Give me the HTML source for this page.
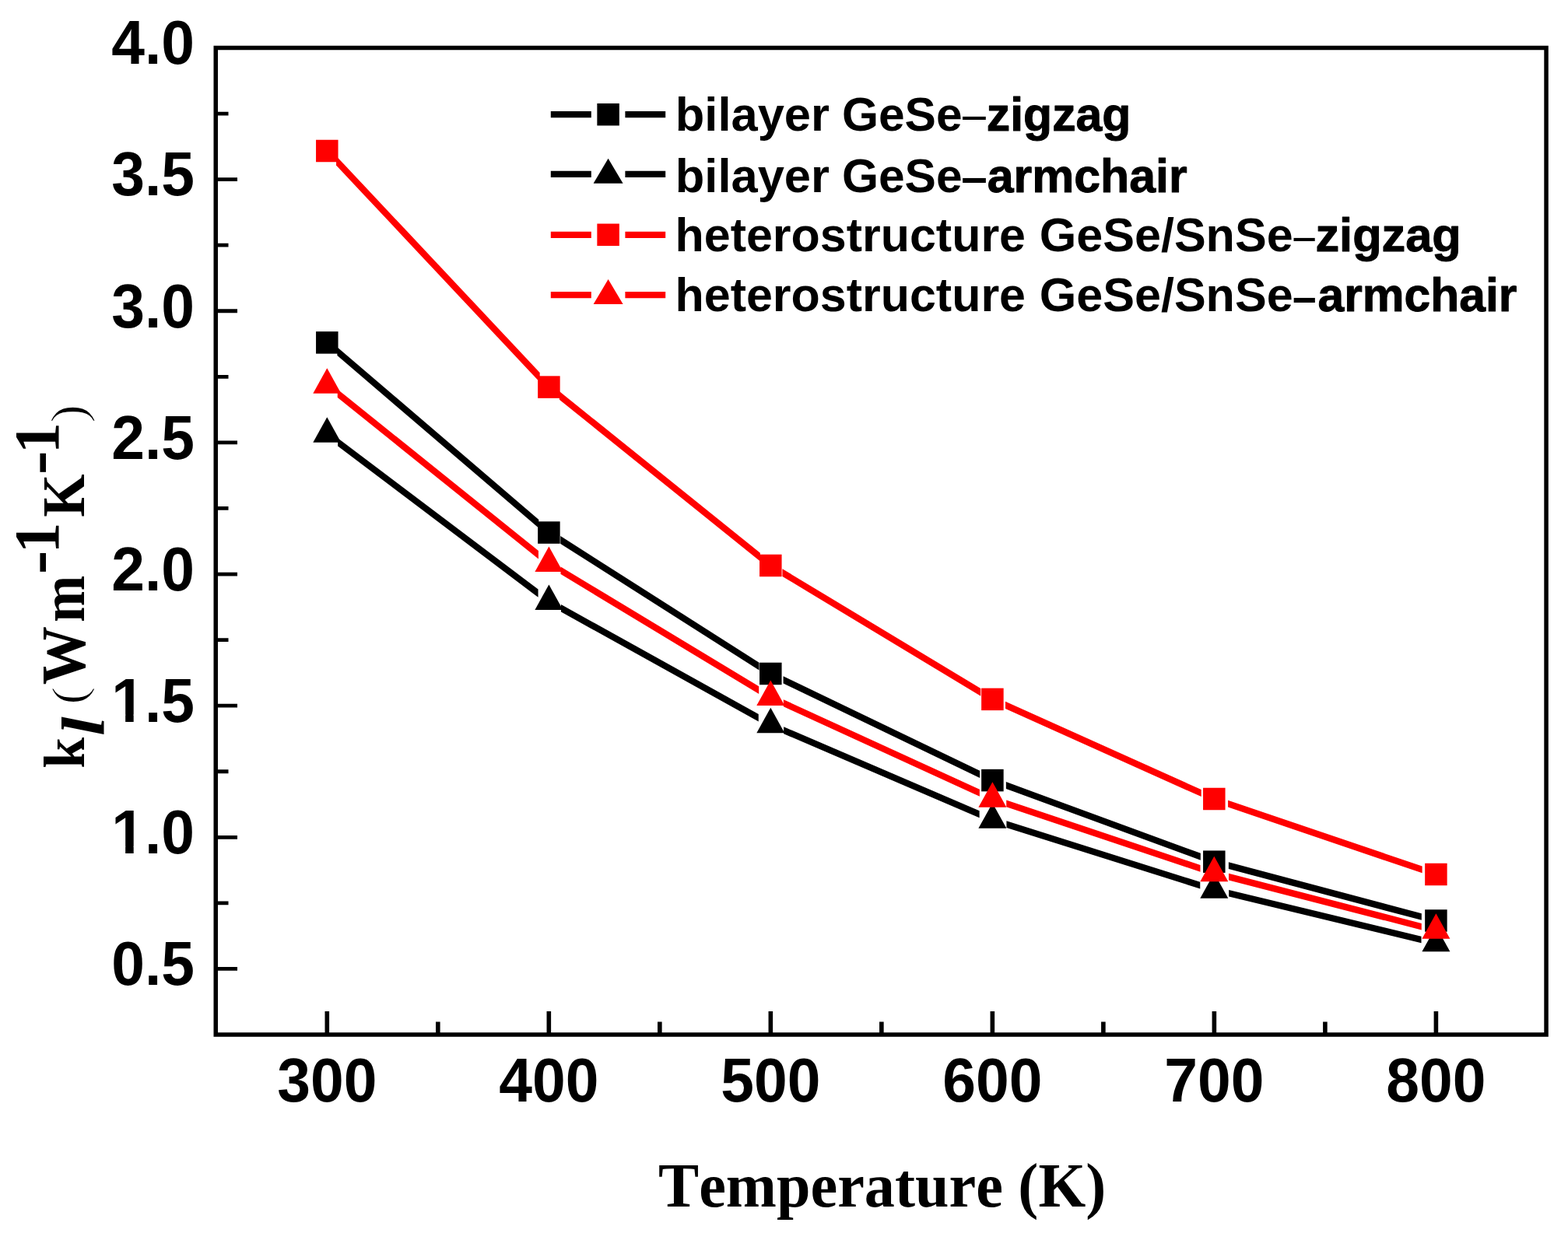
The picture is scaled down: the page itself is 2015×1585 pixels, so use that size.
<!DOCTYPE html>
<html lang="en"><head><meta charset="utf-8"><title>Lattice thermal conductivity vs temperature</title>
<style>html,body{margin:0;padding:0;background:#fff;}body{width:2015px;height:1585px;overflow:hidden;}svg{display:block;}.a{font-family:"Liberation Sans",sans-serif;font-weight:bold;}.t{font-family:"Liberation Serif",serif;font-weight:bold;}.r{font-family:"Liberation Serif",serif;font-weight:normal;}.s{font-family:"Liberation Sans",sans-serif;font-weight:normal;}</style></head><body>
<svg width="2015" height="1585" viewBox="0 0 2015 1585">
<rect width="2015" height="1585" fill="#fff"/>
<g><polygon points="433.37,446.14 692.33,667.94 692.33,678.86 433.37,457.06" fill="#000000"/><polygon points="720.22,689.11 975.48,851.65 975.48,861.49 720.22,698.95" fill="#000000"/><polygon points="1006.58,869.22 1259.12,990.67 1259.12,999.88 1006.58,878.43" fill="#000000"/><polygon points="1292.87,1005.09 1542.83,1096.87 1542.83,1105.71 1292.87,1013.93" fill="#000000"/><polygon points="1578.9,1108.35 1826.8,1174.26 1826.8,1182.85 1578.9,1116.94" fill="#000000"/><rect x="406.05" y="426.15" width="28.5" height="28.5" fill="#000000"/><rect x="691.15" y="670.35" width="28.5" height="28.5" fill="#000000"/><rect x="976.05" y="851.75" width="28.5" height="28.5" fill="#000000"/><rect x="1261.15" y="988.85" width="28.5" height="28.5" fill="#000000"/><rect x="1546.05" y="1093.45" width="28.5" height="28.5" fill="#000000"/><rect x="1831.15" y="1169.25" width="28.5" height="28.5" fill="#000000"/></g>
<g><polygon points="434.14,563.14 691.56,757.46 691.56,767.86 434.14,573.54" fill="#000000"/><polygon points="720.95,777 974.75,918.11 974.75,927.6 720.95,786.49" fill="#000000"/><polygon points="1007.1,934.2 1258.6,1042.26 1258.6,1051.3 1007.1,943.24" fill="#000000"/><polygon points="1293.44,1055.33 1542.26,1133.76 1542.26,1142.47 1293.44,1064.04" fill="#000000"/><polygon points="1579.19,1144.08 1826.51,1203.68 1826.51,1212.22 1579.19,1152.62" fill="#000000"/><polygon points="420.3,536.23 438.3,568.73 402.3,568.73" fill="#000000"/><polygon points="705.4,751.43 723.4,783.93 687.4,783.93" fill="#000000"/><polygon points="990.3,909.83 1008.3,942.33 972.3,942.33" fill="#000000"/><polygon points="1275.4,1032.33 1293.4,1064.83 1257.4,1064.83" fill="#000000"/><polygon points="1560.3,1122.13 1578.3,1154.63 1542.3,1154.63" fill="#000000"/><polygon points="1845.4,1190.83 1863.4,1223.33 1827.4,1223.33" fill="#000000"/></g>
<g><polygon points="432.04,200.44 693.66,479.04 693.66,491.16 432.04,212.56" fill="#ff0000"/><polygon points="718.85,503.1 976.85,710.84 976.85,721.5 718.85,513.76" fill="#ff0000"/><polygon points="1005.42,731.27 1260.28,884.94 1260.28,894.63 1005.42,740.96" fill="#ff0000"/><polygon points="1291.99,901.81 1543.71,1014.99 1543.71,1024.09 1291.99,910.91" fill="#ff0000"/><polygon points="1578.06,1028.66 1827.64,1113.57 1827.64,1122.34 1578.06,1037.43" fill="#ff0000"/><rect x="406.05" y="179.75" width="28.5" height="28.5" fill="#ff0000"/><rect x="691.15" y="483.35" width="28.5" height="28.5" fill="#ff0000"/><rect x="976.05" y="712.75" width="28.5" height="28.5" fill="#ff0000"/><rect x="1261.15" y="884.65" width="28.5" height="28.5" fill="#ff0000"/><rect x="1546.05" y="1012.75" width="28.5" height="28.5" fill="#ff0000"/><rect x="1831.15" y="1109.75" width="28.5" height="28.5" fill="#ff0000"/></g>
<g><polygon points="433.76,500.4 691.94,707.96 691.94,718.6 433.76,511.04" fill="#ff0000"/><polygon points="720.51,728.38 975.19,882.23 975.19,891.92 720.51,738.07" fill="#ff0000"/><polygon points="1006.81,899.2 1258.89,1014.67 1258.89,1023.8 1006.81,908.33" fill="#ff0000"/><polygon points="1293.22,1028.39 1542.48,1111.95 1542.48,1120.71 1293.22,1037.15" fill="#ff0000"/><polygon points="1578.98,1122.84 1826.72,1186.88 1826.72,1195.46 1578.98,1131.42" fill="#ff0000"/><polygon points="420.3,473.23 438.3,505.73 402.3,505.73" fill="#ff0000"/><polygon points="705.4,702.43 723.4,734.93 687.4,734.93" fill="#ff0000"/><polygon points="990.3,874.53 1008.3,907.03 972.3,907.03" fill="#ff0000"/><polygon points="1275.4,1005.13 1293.4,1037.63 1257.4,1037.63" fill="#ff0000"/><polygon points="1560.3,1100.63 1578.3,1133.13 1542.3,1133.13" fill="#ff0000"/><polygon points="1845.4,1174.33 1863.4,1206.83 1827.4,1206.83" fill="#ff0000"/></g>
<rect x="277.25" y="61.5" width="1709.8" height="1268.5" fill="none" stroke="#000" stroke-width="5.5"/>
<path d="M277.25 1245.43H305M277.25 1160.87H293.5M277.25 1076.3H305M277.25 991.73H293.5M277.25 907.16H305M277.25 822.6H293.5M277.25 738.03H305M277.25 653.46H293.5M277.25 568.89H305M277.25 484.33H293.5M277.25 399.76H305M277.25 315.19H293.5M277.25 230.62H305M277.25 146.06H293.5" stroke="#000" stroke-width="4.8" fill="none"/>
<path d="M420.3 1330V1300M562.81 1330V1313.4M705.32 1330V1300M847.83 1330V1313.4M990.34 1330V1300M1132.85 1330V1313.4M1275.36 1330V1300M1417.87 1330V1313.4M1560.38 1330V1300M1702.89 1330V1313.4M1845.4 1330V1300" stroke="#000" stroke-width="5.6" fill="none"/>
<text class="a" font-size="80" text-anchor="end" transform="translate(250 82.3) scale(0.96 1)">4.0</text>
<text class="a" font-size="80" text-anchor="end" transform="translate(250 251.43) scale(0.96 1)">3.5</text>
<text class="a" font-size="80" text-anchor="end" transform="translate(250 420.56) scale(0.96 1)">3.0</text>
<text class="a" font-size="80" text-anchor="end" transform="translate(250 589.69) scale(0.96 1)">2.5</text>
<text class="a" font-size="80" text-anchor="end" transform="translate(250 758.82) scale(0.96 1)">2.0</text>
<text class="a" font-size="80" text-anchor="end" transform="translate(250 927.95) scale(0.96 1)">1.5</text>
<path transform="translate(250 927.95) scale(0.96 1)" fill="#fff" d="M-108.02 -9.44H-92.54V1H-108.02ZM-81.58 -9.44H-67.22V1H-81.58Z"/>
<text class="a" font-size="80" text-anchor="end" transform="translate(250 1097.08) scale(0.96 1)">1.0</text>
<path transform="translate(250 1097.08) scale(0.96 1)" fill="#fff" d="M-108.02 -9.44H-92.54V1H-108.02ZM-81.58 -9.44H-67.22V1H-81.58Z"/>
<text class="a" font-size="80" text-anchor="end" transform="translate(250 1266.21) scale(0.96 1)">0.5</text>
<text class="a" font-size="80" text-anchor="middle" transform="translate(420.3 1416.3) scale(0.96 1)">300</text>
<text class="a" font-size="80" text-anchor="middle" transform="translate(705.4 1416.3) scale(0.96 1)">400</text>
<text class="a" font-size="80" text-anchor="middle" transform="translate(990.3 1416.3) scale(0.96 1)">500</text>
<text class="a" font-size="80" text-anchor="middle" transform="translate(1275.4 1416.3) scale(0.96 1)">600</text>
<text class="a" font-size="80" text-anchor="middle" transform="translate(1560.3 1416.3) scale(0.96 1)">700</text>
<text class="a" font-size="80" text-anchor="middle" transform="translate(1845.4 1416.3) scale(0.96 1)">800</text>
<text class="t" font-size="79.4" style="font-kerning:none" transform="translate(846 1550.7) scale(0.9848 1)">Temperature (K)</text>
<text class="t" transform="translate(107.7 986) rotate(-90)"><tspan x="-1.79" y="0" font-size="73.67" textLength="39.88" lengthAdjust="spacingAndGlyphs">k</tspan><tspan x="40.05" y="24.8" font-size="77.55" textLength="24.66" lengthAdjust="spacingAndGlyphs" font-style="italic">l</tspan><tspan x="80.63" y="1.63" font-size="61.49" textLength="22.72" lengthAdjust="spacingAndGlyphs" font-weight="normal" stroke="#fff" stroke-width="1.1">(</tspan><tspan x="105.67" y="1.49" font-size="80.45" textLength="75.15" lengthAdjust="spacingAndGlyphs">W</tspan><tspan x="186.01" y="0" font-size="80" textLength="60.29" lengthAdjust="spacingAndGlyphs">m</tspan><tspan x="247.65" y="-31.69" font-size="89.41" textLength="30.61" lengthAdjust="spacingAndGlyphs">-</tspan><tspan x="274.74" y="-32.7" font-size="81.52" textLength="39.73" lengthAdjust="spacingAndGlyphs">1</tspan><tspan x="321.36" y="0" font-size="78.17" textLength="55.3" lengthAdjust="spacingAndGlyphs">K</tspan><tspan x="375.72" y="-31.69" font-size="89.41" textLength="30.87" lengthAdjust="spacingAndGlyphs">-</tspan><tspan x="402.78" y="-32.7" font-size="81.52" textLength="40.14" lengthAdjust="spacingAndGlyphs">1</tspan><tspan x="442.17" y="1.26" font-size="63.25" textLength="23.92" lengthAdjust="spacingAndGlyphs" font-weight="normal" stroke="#fff" stroke-width="1.1">)</tspan></text>
<path d="M707.8 147.2H759.8M803.4 147.2H855.2" stroke="#000000" stroke-width="8.3" fill="none"/>
<rect x="767.35" y="132.95" width="28.5" height="28.5" fill="#000000"/>
<text class="a" font-size="60.4"><tspan x="867.8" y="168" textLength="198.17" lengthAdjust="spacingAndGlyphs">bilayer</tspan> <tspan x="1081.88" y="168" textLength="154.72" lengthAdjust="spacingAndGlyphs">GeSe</tspan><tspan x="1237" y="168.4" textLength="29.86" lengthAdjust="spacingAndGlyphs" font-weight="normal">–</tspan><tspan x="1267.87" y="168" textLength="185.62" lengthAdjust="spacingAndGlyphs" stroke="#000" stroke-width="1" stroke-linejoin="round">zigzag</tspan></text>
<path d="M707.8 223.9H759.8M803.4 223.9H855.2" stroke="#000000" stroke-width="8.3" fill="none"/>
<polygon points="781.6,203.77 800.6,235.77 762.6,235.77" fill="#000000"/>
<text class="a" font-size="60.4"><tspan x="867.8" y="246.7" textLength="198.17" lengthAdjust="spacingAndGlyphs">bilayer</tspan> <tspan x="1081.88" y="246.7" textLength="154.72" lengthAdjust="spacingAndGlyphs">GeSe</tspan><tspan x="1235.19" y="248.3" textLength="33.48" lengthAdjust="spacingAndGlyphs">–</tspan><tspan x="1268.78" y="246.7" textLength="256.82" lengthAdjust="spacingAndGlyphs" stroke="#000" stroke-width="1" stroke-linejoin="round">armchair</tspan></text>
<path d="M707.8 301.8H759.8M803.4 301.8H855.2" stroke="#ff0000" stroke-width="8.3" fill="none"/>
<rect x="767.35" y="287.55" width="28.5" height="28.5" fill="#ff0000"/>
<text class="a" font-size="60.4"><tspan x="867.53" y="323.3" textLength="450.5" lengthAdjust="spacingAndGlyphs">heterostructure</tspan> <tspan x="1335.76" y="323.3" textLength="325.89" lengthAdjust="spacingAndGlyphs">GeSe/SnSe</tspan><tspan x="1662.6" y="323.7" textLength="27.26" lengthAdjust="spacingAndGlyphs" font-weight="normal">–</tspan><tspan x="1690.45" y="323.3" textLength="187.38" lengthAdjust="spacingAndGlyphs" stroke="#000" stroke-width="1" stroke-linejoin="round">zigzag</tspan></text>
<path d="M707.8 379.2H759.8M803.4 379.2H855.2" stroke="#ff0000" stroke-width="8.3" fill="none"/>
<polygon points="781.6,359.07 800.6,391.07 762.6,391.07" fill="#ff0000"/>
<text class="a" font-size="60.4"><tspan x="867.53" y="399.9" textLength="450.5" lengthAdjust="spacingAndGlyphs">heterostructure</tspan> <tspan x="1335.76" y="399.9" textLength="325.89" lengthAdjust="spacingAndGlyphs">GeSe/SnSe</tspan><tspan x="1660.95" y="401.5" textLength="30.56" lengthAdjust="spacingAndGlyphs">–</tspan><tspan x="1693.58" y="399.9" textLength="255.71" lengthAdjust="spacingAndGlyphs" stroke="#000" stroke-width="1" stroke-linejoin="round">armchair</tspan></text>
</svg></body></html>
